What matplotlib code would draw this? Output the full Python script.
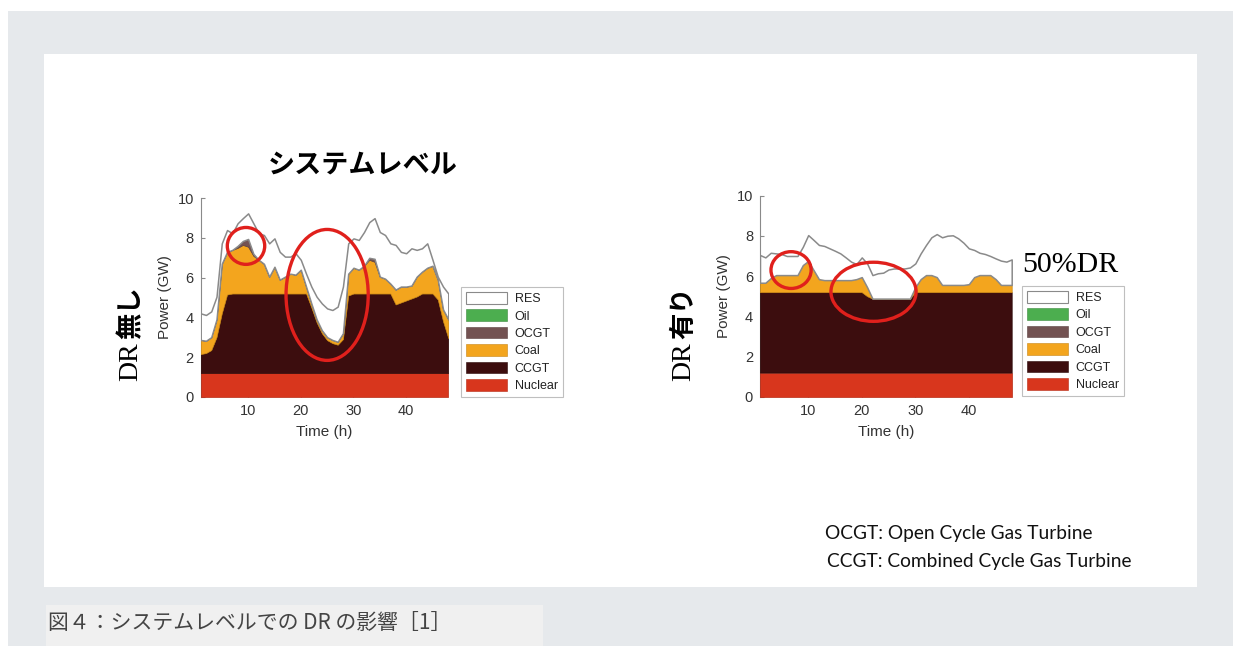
import matplotlib
matplotlib.use("Agg")
import matplotlib.pyplot as plt
import numpy as np
from matplotlib.patches import Ellipse, Patch, Rectangle

plt.rcParams["font.family"] = ["Liberation Sans", "Noto Sans CJK JP"]

W, H = 1233, 646

hours = np.arange(1, 49)
nuclear_level = 1.2

# stacked levels (GW) without demand response
ccgt_top_a = [2.15, 2.2, 2.35, 3.0, 4.2, 5.15, 5.2, 5.2, 5.2, 5.2,
              5.2, 5.2, 5.2, 5.2, 5.2, 5.2, 5.2, 5.2, 5.2, 5.2,
              5.2, 4.5, 3.75, 3.2, 2.85, 2.7, 2.62, 2.9, 5.1, 5.2,
              5.2, 5.2, 5.2, 5.2, 5.2, 5.2, 5.2, 4.65, 4.75, 4.85,
              4.95, 5.05, 5.2, 5.2, 5.2, 4.9, 3.8, 2.95]
coal_top_a = [2.86, 2.82, 3.0, 3.9, 6.7, 7.3, 7.4, 7.5, 7.65, 7.56,
              7.1, 6.9, 6.7, 6.05, 6.55, 5.9, 6.05, 6.2, 6.15, 6.4,
              5.55, 4.7, 3.9, 3.35, 3.0, 2.86, 2.77, 3.2, 6.2, 6.5,
              6.4, 6.6, 6.9, 6.8, 6.05, 5.95, 5.7, 5.4, 5.55, 5.55,
              5.6, 6.05, 6.3, 6.5, 6.6, 5.9, 4.4, 3.9]
ocgt_top_a = [2.86, 2.82, 3.0, 3.9, 6.7, 7.3, 7.4, 7.6, 7.85, 7.95,
              7.2, 6.9, 6.7, 6.05, 6.55, 5.9, 6.05, 6.2, 6.15, 6.4,
              5.55, 4.7, 3.9, 3.35, 3.0, 2.86, 2.77, 3.2, 6.2, 6.5,
              6.4, 6.6, 7.0, 6.95, 6.05, 5.95, 5.7, 5.4, 5.55, 5.55,
              5.6, 6.05, 6.3, 6.5, 6.6, 5.9, 4.4, 3.9]
res_top_a = [4.2, 4.12, 4.3, 5.04, 7.73, 8.4, 8.24, 8.74, 9.0, 9.24,
             8.74, 8.24, 8.15, 7.73, 7.98, 7.3, 7.06, 7.06, 7.23, 6.9,
             6.2, 5.55, 5.04, 4.7, 4.45, 4.37, 4.54, 5.55, 7.73, 7.98,
             7.9, 8.3, 8.8, 9.0, 8.3, 8.15, 7.73, 7.65, 7.3, 7.23,
             7.48, 7.4, 7.48, 7.73, 6.9, 6.05, 5.55, 5.2]

# stacked levels (GW) with 50% demand response
ccgt_top_b = [5.2, 5.2, 5.2, 5.2, 5.2, 5.2, 5.2, 5.2, 5.2, 5.2,
              5.2, 5.2, 5.2, 5.2, 5.2, 5.2, 5.2, 5.2, 5.2, 5.2,
              5.0, 4.88, 4.88, 4.88, 4.88, 4.88, 4.88, 4.88, 4.88, 5.2,
              5.2, 5.2, 5.2, 5.2, 5.2, 5.2, 5.2, 5.2, 5.2, 5.2,
              5.2, 5.2, 5.2, 5.2, 5.2, 5.2, 5.2, 5.2]
coal_top_b = [5.67, 5.67, 5.9, 6.05, 6.05, 6.05, 6.05, 6.05, 6.55, 6.75,
              6.3, 5.85, 5.8, 5.8, 5.8, 5.8, 5.8, 5.8, 5.85, 5.95,
              5.45, 4.88, 4.88, 4.88, 4.88, 4.88, 4.88, 4.88, 4.88, 5.45,
              5.85, 6.05, 6.05, 5.95, 5.56, 5.56, 5.56, 5.56, 5.56, 5.6,
              5.95, 6.05, 6.05, 6.05, 5.85, 5.56, 5.56, 5.56]
res_top_b = [7.05, 6.93, 7.16, 7.13, 7.1, 7.0, 7.0, 7.0, 7.46, 8.04,
             7.8, 7.55, 7.5, 7.38, 7.26, 7.13, 6.93, 6.72, 6.6, 6.93,
             6.63, 6.05, 6.14, 6.17, 6.33, 6.38, 6.38, 6.38, 6.43, 6.63,
             7.13, 7.55, 7.93, 8.09, 7.93, 8.01, 8.03, 7.88, 7.66, 7.38,
             7.3, 7.16, 7.1, 7.0, 6.88, 6.77, 6.72, 6.83]

sources = ["RES", "Oil", "OCGT", "Coal", "CCGT", "Nuclear"]
fills = {"RES": "#ffffff", "Oil": "#4cae4f", "OCGT": "#735252",
         "Coal": "#f3a51e", "CCGT": "#3c0d0e", "Nuclear": "#d8361d"}
edges = {"RES": "#8a8a8a", "Oil": "#3c8a3e", "OCGT": "#5a3f3f",
         "Coal": "#c98512", "CCGT": "#2a0808", "Nuclear": "#b82a14"}

# red rings: (x centre, y centre, width, height) in data units
rings_a = [(9.6, 7.6, 7.1, 1.86), (25.0, 5.13, 15.6, 6.6)]
rings_b = [(6.8, 6.3, 7.5, 1.83), (22.2, 5.22, 15.9, 2.94)]


def fx(px):
    return px / W


def fy(py):
    return 1 - py / H


def box(fig, x0, y0, x1, y1, color):
    fig.patches.append(Rectangle((fx(x0), fy(y1)), fx(x1) - fx(x0), fy(y0) - fy(y1),
                                 transform=fig.transFigure, facecolor=color,
                                 edgecolor="none", zorder=-5))


def draw_panel(ax, levels, rings):
    lower = np.zeros(len(hours))
    for top, name in levels:
        top = np.asarray(top, dtype=float)
        lw = 1.1 if name == "RES" else 0.5
        ax.fill_between(hours, lower, top, facecolor=fills[name],
                        edgecolor=edges[name], linewidth=lw, zorder=3)
        lower = top
    for cx, cy, w, h in rings:
        ax.add_patch(Ellipse((cx, cy), w, h, fill=False, edgecolor="#e0201c",
                             linewidth=2.4, zorder=5, clip_on=False))
    ax.set_xlim(1, 48)
    ax.set_ylim(0, 10)
    ax.set_xticks([10, 20, 30, 40])
    ax.set_yticks([0, 2, 4, 6, 8, 10])
    for side in ["top", "right", "bottom"]:
        ax.spines[side].set_visible(False)
    ax.spines["left"].set_color("#8a8a8a")
    ax.spines["left"].set_linewidth(0.8)
    ax.spines["left"].set_zorder(2)
    ax.tick_params(direction="in", length=3, color="#8a8a8a",
                   labelcolor="#333333", labelsize=10.5, pad=5)
    ax.set_xlabel("Time (h)", fontsize=11, color="#333333", labelpad=5)
    ax.set_ylabel("Power (GW)", fontsize=11, color="#333333", labelpad=4)
    ax.patch.set_alpha(0)


def add_legend(fig, x, y):
    handles = [Patch(facecolor=fills[n], edgecolor=edges[n],
                     linewidth=0.8 if n == "RES" else 0.4) for n in sources]
    leg = fig.legend(handles, sources, loc="upper left",
                     bbox_to_anchor=(fx(x), fy(y)), bbox_transform=fig.transFigure,
                     prop={"family": "Liberation Sans", "size": 9},
                     handlelength=3.3, handleheight=1.05, handletextpad=0.6,
                     labelspacing=0.35, borderpad=0.4, borderaxespad=0,
                     fancybox=False, frameon=True, edgecolor="#b0b0b0")
    leg.get_frame().set_linewidth(0.8)
    for t in leg.get_texts():
        t.set_color("#222222")


fig = plt.figure(figsize=(W / 100, H / 100), dpi=100)
fig.patch.set_facecolor("white")

box(fig, 8, 11, W, H, "#e6e9ec")
box(fig, 44, 54, 1197, 587, "#ffffff")
box(fig, 46, 605, 543, H, "#f0f0f0")

ax_a = fig.add_axes([fx(200.7), fy(396.7), fx(448.3) - fx(200.7), fy(198.3) - fy(396.7)])
ax_b = fig.add_axes([fx(760), fy(396.7), fx(1011.7) - fx(760), fy(195.7) - fy(396.7)])

nuclear = np.full(len(hours), nuclear_level)
draw_panel(ax_a, [(nuclear, "Nuclear"), (ccgt_top_a, "CCGT"), (coal_top_a, "Coal"),
                  (ocgt_top_a, "OCGT"), (res_top_a, "RES")], rings_a)
draw_panel(ax_b, [(nuclear, "Nuclear"), (ccgt_top_b, "CCGT"), (coal_top_b, "Coal"),
                  (res_top_b, "RES")], rings_b)

add_legend(fig, 461, 287)
add_legend(fig, 1022, 286)

fig.text(fx(363), fy(165), "システムレベル", fontsize=19.5, fontweight="bold",
         family="Noto Sans CJK JP", ha="center", va="center", color="black")

# row captions, rotated
fig.text(fx(131), fy(362), "DR", fontsize=20, family="Liberation Serif",
         rotation=90, ha="center", va="center")
fig.text(fx(131), fy(313), "無し", fontsize=19, fontweight="bold",
         family="Noto Sans CJK JP", rotation=90, ha="center", va="center")
fig.text(fx(684), fy(362), "DR", fontsize=20, family="Liberation Serif",
         rotation=90, ha="center", va="center")
fig.text(fx(684), fy(313), "有り", fontsize=19, fontweight="bold",
         family="Noto Sans CJK JP", rotation=90, ha="center", va="center")

fig.text(fx(1022), fy(272), "50%DR", fontsize=21.5, family="Liberation Serif",
         ha="left", va="baseline", color="black")

fig.text(fx(825), fy(533), "OCGT: Open Cycle Gas Turbine", fontsize=13.8,
         family="Lato", ha="left", va="center", color="#111111")
fig.text(fx(827), fy(561), "CCGT: Combined Cycle Gas Turbine", fontsize=13.8,
         family="Lato", ha="left", va="center", color="#111111")

fig.text(fx(48), fy(623), "図４：システムレベルでの DR の影響［1］", fontsize=15,
         family=["Noto Sans CJK JP"], style="italic", ha="left", va="center",
         color="#444444")

fig.savefig("out.png", dpi=100)
